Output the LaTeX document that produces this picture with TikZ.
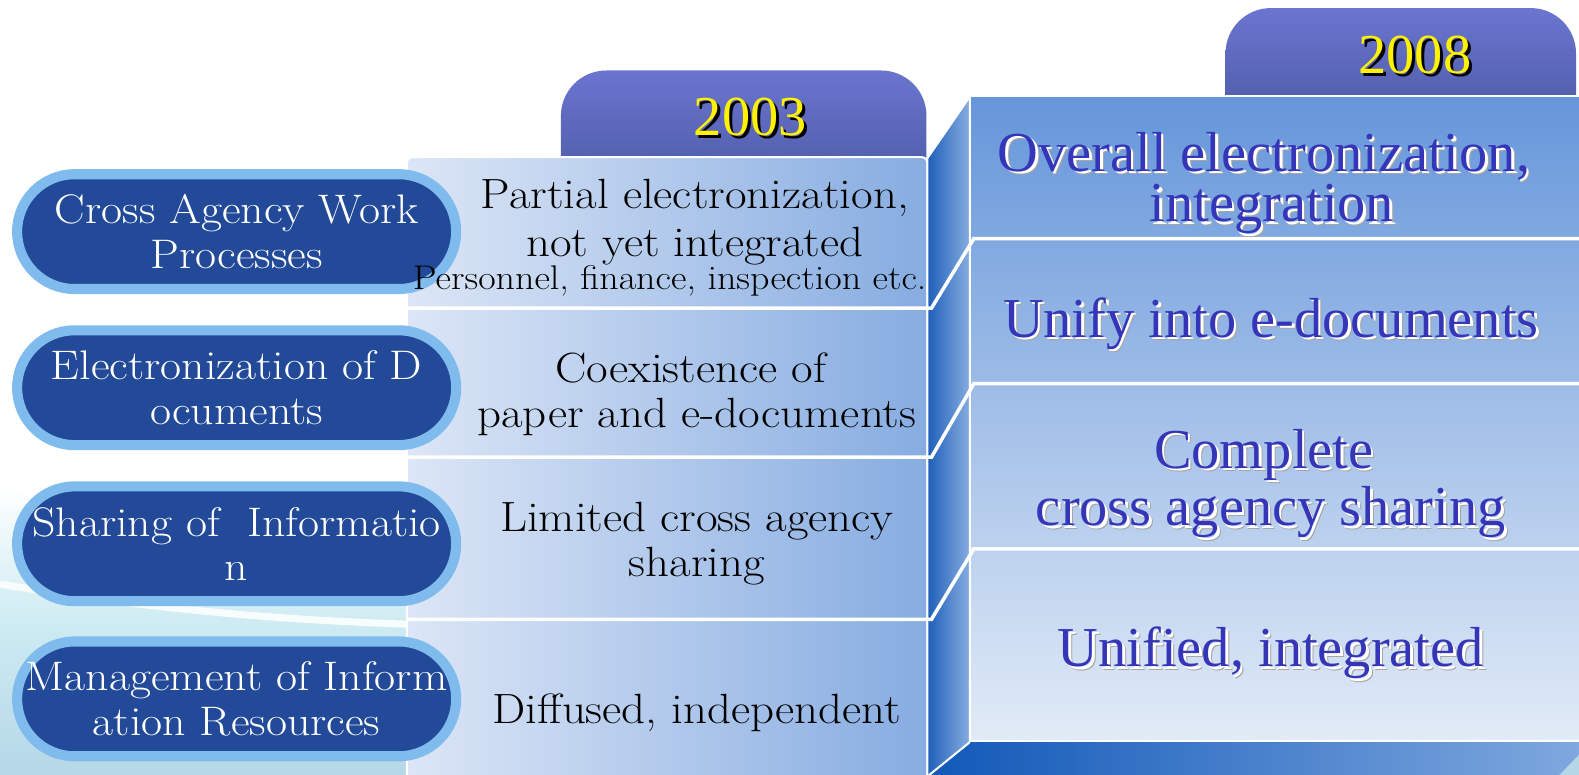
\documentclass[tikz,border=0pt]{standalone}
\usepackage{fontspec}
\setmainfont{Latin Modern Roman}[FakeStretch=1.11]
\newfontfamily\tnr{Liberation Serif}
\usetikzlibrary{calc}
\definecolor{pillring}{HTML}{80BBEE}
\definecolor{pillfill}{HTML}{224A98}
\definecolor{tabtop}{HTML}{6B75D0}
\definecolor{tabbot}{HTML}{45539A}
\definecolor{oldL}{HTML}{DCE6F6}
\definecolor{oldR}{HTML}{86ACE1}
\definecolor{sideL}{HTML}{1F5FB9}
\definecolor{sideR}{HTML}{86AEE0}
\definecolor{newT}{HTML}{6596DA}
\definecolor{newB}{HTML}{E2EBF7}
\definecolor{botL}{HTML}{1158B8}
\definecolor{botR}{HTML}{80A9DF}
\definecolor{newtext}{HTML}{3535B8}
\definecolor{wave}{HTML}{B5D6E6}
\definecolor{wavemid}{HTML}{CBEAF2}
\newcommand\shnew[1]{\rlap{\kern3.5pt\raisebox{-3.5pt}{\color{black!35}#1}}\rlap{\kern2.5pt\raisebox{-2.5pt}{\color{white}#1}}#1}
\newcommand\shyear[1]{\rlap{\kern3pt\raisebox{-3pt}{\color{black}#1}}#1}
\tikzset{
 pill/.style={draw=pillring, line width=10pt, fill=pillfill, rounded corners=57pt,
   minimum width=436pt, minimum height=114pt, text=white, align=center,
   font=\fontsize{41}{44}\selectfont, inner sep=0pt},
 oldtxt/.style={anchor=base, text=black, font=\fontsize{42}{44}\selectfont, inner sep=0pt},
 oldsmall/.style={anchor=base, text=black, font=\fontsize{34}{36}\selectfont, inner sep=0pt},
 newtxt/.style={anchor=base, text=newtext, font=\tnr\fontsize{56}{60}\selectfont, inner sep=0pt},
 yeartxt/.style={anchor=base, text=yellow, font=\tnr\fontsize{56}{60}\selectfont, inner sep=0pt},
 sepline/.style={white, line width=3.5pt, line join=miter},
}
\begin{document}
\begin{tikzpicture}[x=1pt,y=-1pt]
\useasboundingbox (0,0) rectangle (1568,769);
\fill[white] (0,0) rectangle (1568,769);
% background wave
\shade[top color=white, bottom color=wave, middle color=wavemid]
  (0,480) .. controls (100,530) and (250,585) .. (410,600) -- (410,775) -- (0,775) -- cycle;
\draw[white, line width=7pt, opacity=.85] (0,580) .. controls (120,600) and (250,615) .. (410,620);
\fill[wave] (1500,730) rectangle (1575,775);
% tabs
\shade[top color=tabtop, bottom color=tabbot, rounded corners=45pt] (557,70) rectangle (920,215);
\shade[top color=tabtop, bottom color=tabbot, rounded corners=45pt] (1217,8) rectangle (1565,153);
% 2003 panel
\shadedraw[left color=oldL, right color=oldR, rounded corners=6pt, draw=white, line width=2pt]
  (404,156) rectangle (921,800);
% side face
\shadedraw[left color=sideL, right color=sideR, draw=white, line width=2pt]
  (921,157) -- (963,96) -- (963,800) -- (921,800) -- cycle;
% 2008 panel
\shadedraw[top color=newT, bottom color=newB, draw=white, line width=2pt]
  (963,95) rectangle (1575,736);
% bottom face
\shade[left color=botL, right color=botR]
  (963,737) -- (1575,737) -- (1575,742) -- (1547,771) -- (920,771) -- cycle;
\draw[white, line width=2pt] (963,737) -- (921,771);
% separators
\draw[sepline] (404,306) -- (925,306) -- (967,237) -- (1575,237);
\draw[sepline] (404,454) -- (925,454) -- (967,381) -- (1575,381);
\draw[sepline] (404,615) -- (925,615) -- (967,545) -- (1575,545);
% pills
\node[pill] (p1) at (235,230) {Cross Agency Work\\Processes};
\node[pill] (p2) at (235,385) {Electronization of D\\ocuments};
\node[pill] (p3) at (235,540) {Sharing of\ \ Informatio\\n};
\node[pill] (p4) at (235,694) {Management of Inform\\ation Resources};
% 2003 column
\node[yeartxt] (y03) at (745,135) {\shyear{2003}};
\node[oldtxt] (a1) at (690,207) {Partial electronization,};
\node[oldtxt] (a2) at (690,255) {not yet integrated};
\node[oldsmall] (a3) at (665,287) {Personnel, finance, inspection etc.};
\node[oldtxt] (b1) at (686,380) {Coexistence of};
\node[oldtxt] (b2) at (692,425) {paper and e-documents};
\node[oldtxt] (c1) at (692,528) {Limited cross agency};
\node[oldtxt] (c2) at (692,572) {sharing};
\node[oldtxt] (d1) at (692,718) {Diffused, independent};
% 2008 column
\node[yeartxt] (y08) at (1405,73) {\shyear{2008}};
\node[newtxt] (e1) at (1255,170) {\shnew{Overall electronization,}};
\node[newtxt] (e2) at (1263,220) {\shnew{integration}};
\node[newtxt] (f1) at (1262,335) {\shnew{Unify into e-documents}};
\node[newtxt] (g1) at (1255,465) {\shnew{Complete}};
\node[newtxt] (g2) at (1262,522) {\shnew{cross agency sharing}};
\node[newtxt] (h1) at (1262,662) {\shnew{Unified, integrated}};
\end{tikzpicture}
\end{document}
